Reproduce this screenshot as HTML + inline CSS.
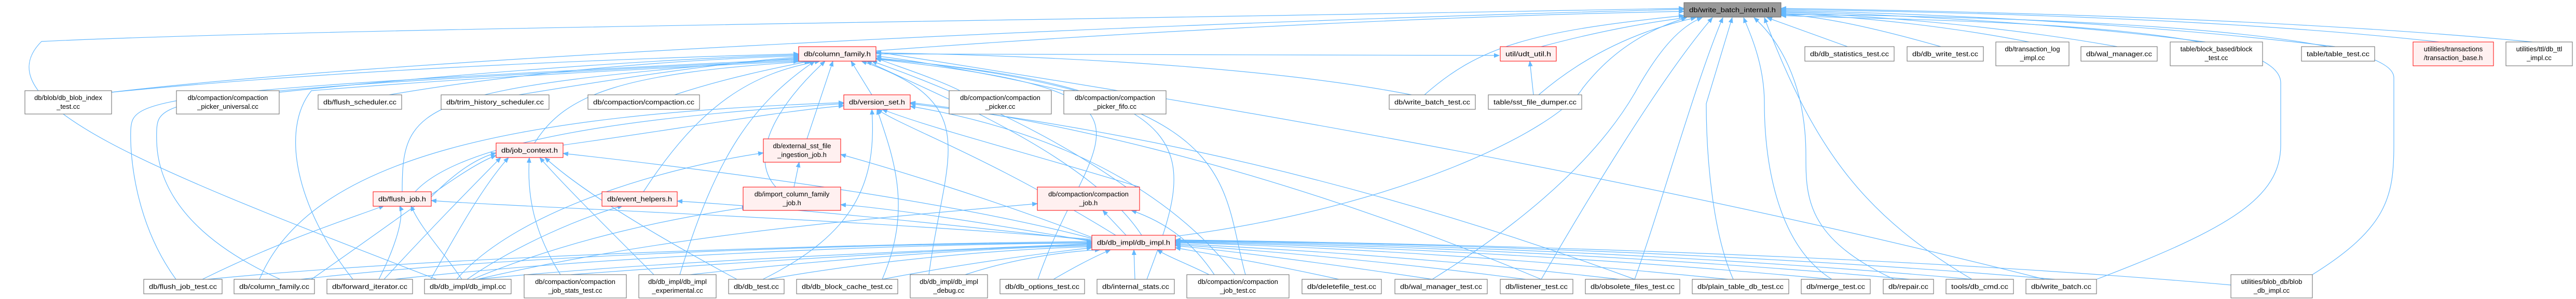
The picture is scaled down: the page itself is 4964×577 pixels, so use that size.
<!DOCTYPE html>
<html><head><meta charset="utf-8"><style>
html,body{margin:0;padding:0;background:#fff;}
svg{display:block;}
.e{fill:none;stroke:#63b8ff;stroke-width:1.2;}
.n rect{fill:#fff;stroke:#666;stroke-width:1;}
.r rect{fill:#fff0f0;stroke:#f00;stroke-width:1;}
.g rect{fill:#999;stroke:#666;stroke-width:1;}
text{font-family:"Liberation Sans",sans-serif;font-size:13px;fill:#000;text-anchor:middle;}
</style></head><body>
<svg width="4964" height="577" viewBox="0 0 4964 577" xmlns="http://www.w3.org/2000/svg">
<defs><marker id="a" markerWidth="11" markerHeight="9" refX="10" refY="4.5" orient="auto" markerUnits="userSpaceOnUse"><path d="M0,0 L11,4.5 L0,9 z" fill="#63b8ff"/></marker></defs>
<g class="e" marker-end="url(#a)">
<path d="M3560,90 L3405,34"/>
<path d="M3740,90 C3600,50 3500,30 3432,28"/>
<path d="M3910,81 C3700,40 3500,28 3432,26"/>
<path d="M4080,90 C3800,40 3500,25 3432,24"/>
<path d="M4250,81 C3900,35 3500,24 3432,22"/>
<path d="M4500,90 C4000,30 3500,22 3432,20"/>
<path d="M4700,81 C4200,25 3500,20 3432,18"/>
<path d="M4880,81 C4300,25 3500,18 3432,16"/>
<path d="M2970,90 C3100,55 3200,40 3250,34"/>
<path d="M2745,183 C2850,90 2950,60 3245,30"/>
<path d="M2965,183 C3050,110 3150,60 3268,34"/>
<path d="M1688,98 C2200,60 2800,30 3245,22"/>
<path d="M215,178 C700,120 2000,50 3245,18"/>
<path d="M841,539 C300,330 -40,200 80,80 C600,55 2000,40 3245,16"/>
<path d="M2760,539 C2950,420 3080,300 3150,180 C3200,90 3240,50 3280,34"/>
<path d="M2970,539 C3050,400 3200,150 3300,34"/>
<path d="M3150,539 C3200,400 3270,150 3320,34"/>
<path d="M3340,539 C3300,450 3288,300 3288,200 L3338,34"/>
<path d="M3530,539 C3420,470 3400,300 3400,200 C3400,120 3370,60 3360,34"/>
<path d="M3650,539 C3480,460 3480,380 3480,300 C3480,150 3420,70 3380,34"/>
<path d="M3800,539 C3600,420 3500,300 3400,34"/>
<path d="M4040,539 C4300,440 4395,380 4395,280 L4395,160 C4395,40 3700,40 3432,30"/>
<path d="M4456,530 C4600,440 4613,380 4613,280 L4613,150 C4613,50 3800,30 3432,28"/>
<path d="M2265,456 C2700,400 3000,250 3050,170 C3120,80 3200,50 3250,34"/>
<path d="M215,178 C700,130 1300,110 1539,104"/>
<path d="M538,178 C900,140 1300,112 1539,106"/>
<path d="M750,183 C1000,140 1300,115 1539,108"/>
<path d="M1000,183 C1200,150 1400,120 1539,110"/>
<path d="M1300,183 C1400,150 1500,130 1560,118"/>
<path d="M1680,183 L1640,118"/>
<path d="M1030,276 C1090,180 1200,140 1565,118"/>
<path d="M1555,268 L1605,118"/>
<path d="M1495,361 C1440,300 1500,200 1590,118"/>
<path d="M1240,370 C1350,200 1450,140 1580,118"/>
<path d="M1850,175 C1800,150 1720,125 1688,112"/>
<path d="M2050,175 C1900,140 1750,115 1688,108"/>
<path d="M2720,183 C2400,120 1900,105 1688,102"/>
<path d="M775,370 C775,200 800,170 1539,112"/>
<path d="M2170,361 C2000,240 1800,160 1680,118"/>
<path d="M2200,454 C2100,300 1800,180 1670,118"/>
<path d="M339,539 C260,430 250,300 252,250 C255,190 280,175 1539,114"/>
<path d="M540,539 C300,430 300,300 302,250 C305,190 330,175 1539,116"/>
<path d="M680,539 C570,400 540,250 600,175 C900,150 1300,130 1539,118"/>
<path d="M1310,530 C1380,300 1450,200 1570,118"/>
<path d="M1790,530 C1820,300 1900,200 1660,118"/>
<path d="M2000,539 C2100,250 2300,180 1688,114"/>
<path d="M2400,530 C2350,350 2400,180 1688,112"/>
<path d="M2210,539 C2300,300 2350,170 1688,113"/>
<path d="M3940,539 C3000,300 2000,150 1688,100"/>
<path d="M1688,104 C2200,108 2700,108 2889,107"/>
<path d="M1085,280 C1300,250 1500,215 1626,204"/>
<path d="M800,370 C900,260 1300,220 1626,200"/>
<path d="M500,539 C600,300 1000,220 1626,198"/>
<path d="M2196,361 C2000,300 1800,250 1700,211"/>
<path d="M2150,454 C1900,300 1750,250 1690,211"/>
<path d="M1700,539 C1760,400 1720,300 1690,211"/>
<path d="M1470,539 C1650,450 1690,350 1680,211"/>
<path d="M2380,530 C2200,300 1900,230 1754,205"/>
<path d="M3150,539 C2500,300 2000,230 1754,200"/>
<path d="M2970,539 C2400,300 1950,220 1754,198"/>
<path d="M831,380 C880,330 920,305 956,295"/>
<path d="M2104,460 C1800,380 1300,320 1085,296"/>
<path d="M830,539 C880,450 930,360 980,304"/>
<path d="M1080,530 C1030,450 1015,380 1020,304"/>
<path d="M1260,530 C1150,420 1080,350 1040,304"/>
<path d="M1420,539 C1200,420 1100,350 1050,304"/>
<path d="M740,539 C850,420 920,350 965,304"/>
<path d="M600,539 C800,400 900,320 956,300"/>
<path d="M390,539 C550,460 680,420 740,397"/>
<path d="M890,539 C850,480 810,440 792,397"/>
<path d="M2104,462 C1600,420 1000,400 831,387"/>
<path d="M730,539 C760,480 780,420 770,397"/>
<path d="M1530,361 L1540,313"/>
<path d="M2104,458 C1900,380 1700,320 1620,298"/>
<path d="M880,539 C1000,400 1300,320 1471,295"/>
<path d="M900,539 C1000,470 1120,420 1200,397"/>
<path d="M2104,464 C1800,430 1500,400 1305,388"/>
<path d="M910,539 C1100,460 1300,420 1440,400"/>
<path d="M2104,466 C1900,430 1700,400 1620,395"/>
<path d="M920,539 C1300,450 1700,420 1999,393"/>
<path d="M2170,454 L2125,406"/>
<path d="M2340,530 C2300,470 2250,430 2180,406"/>
<path d="M920,539 C1300,500 1900,480 2104,470"/>
<path d="M1100,530 C1500,500 1900,478 2104,472"/>
<path d="M1330,530 C1600,500 1900,478 2104,474"/>
<path d="M1480,539 C1700,500 1950,480 2104,476"/>
<path d="M1700,539 C1850,510 2000,490 2104,478"/>
<path d="M400,539 C900,490 1700,470 2104,466"/>
<path d="M580,539 C1000,490 1700,470 2104,468"/>
<path d="M760,539 C1200,490 1800,470 2104,469"/>
<path d="M1860,530 C1950,500 2050,485 2120,482"/>
<path d="M2030,539 C2080,510 2110,495 2140,482"/>
<path d="M2187,539 L2185,482"/>
<path d="M2330,530 C2290,510 2250,495 2230,482"/>
<path d="M2580,539 C2450,510 2330,490 2265,478"/>
<path d="M2760,539 C2500,500 2330,480 2265,474"/>
<path d="M2940,539 C2600,495 2350,478 2265,472"/>
<path d="M3120,539 C2700,490 2350,475 2265,470"/>
<path d="M3330,539 C2800,485 2400,472 2265,468"/>
<path d="M3530,539 C2900,480 2400,470 2265,467"/>
<path d="M3680,539 C3000,478 2400,468 2265,466"/>
<path d="M3800,539 C3100,476 2400,466 2265,465"/>
<path d="M3960,539 C3200,474 2400,465 2265,464"/>
<path d="M4299,550 C3500,480 2500,466 2265,463"/>
<path d="M2955,183 L2948,118"/>
</g>
<g class="g"><rect x="3245" y="5" width="187" height="28"/><text x="3338.5" y="23.5" textLength="167" lengthAdjust="spacingAndGlyphs">db/write_batch_internal.h</text></g>
<g class="r"><rect x="2891" y="90" width="108" height="28"/><text x="2945" y="108.5" textLength="88" lengthAdjust="spacingAndGlyphs">util/udt_util.h</text></g>
<g class="n"><rect x="3478" y="90" width="172" height="28"/><text x="3564" y="108.5" textLength="152" lengthAdjust="spacingAndGlyphs">db/db_statistics_test.cc</text></g>
<g class="n"><rect x="3675" y="90" width="147" height="28"/><text x="3748.5" y="108.5" textLength="127" lengthAdjust="spacingAndGlyphs">db/db_write_test.cc</text></g>
<g class="n"><rect x="3846" y="81" width="141" height="46"/><text x="3916.5" y="99">db/transaction_log</text><text x="3916.5" y="116">_impl.cc</text></g>
<g class="n"><rect x="4010" y="90" width="147" height="28"/><text x="4083.5" y="108.5" textLength="127" lengthAdjust="spacingAndGlyphs">db/wal_manager.cc</text></g>
<g class="n"><rect x="4182" y="81" width="178" height="46"/><text x="4271" y="99">table/block_based/block</text><text x="4271" y="116">_test.cc</text></g>
<g class="n"><rect x="4435" y="90" width="141" height="28"/><text x="4505.5" y="108.5" textLength="121" lengthAdjust="spacingAndGlyphs">table/table_test.cc</text></g>
<g class="r"><rect x="4650" y="81" width="155" height="46"/><text x="4727.5" y="99">utilities/transactions</text><text x="4727.5" y="116">/transaction_base.h</text></g>
<g class="n"><rect x="4829" y="81" width="128" height="46"/><text x="4893" y="99">utilities/ttl/db_ttl</text><text x="4893" y="116">_impl.cc</text></g>
<g class="r"><rect x="1539" y="90" width="149" height="28"/><text x="1613.5" y="108.5" textLength="129" lengthAdjust="spacingAndGlyphs">db/column_family.h</text></g>
<g class="n"><rect x="48" y="175" width="167" height="45"/><text x="131.5" y="193">db/blob/db_blob_index</text><text x="131.5" y="210">_test.cc</text></g>
<g class="n"><rect x="340" y="175" width="198" height="45"/><text x="439" y="193">db/compaction/compaction</text><text x="439" y="210">_picker_universal.cc</text></g>
<g class="n"><rect x="613" y="183" width="161" height="28"/><text x="693.5" y="201.5" textLength="141" lengthAdjust="spacingAndGlyphs">db/flush_scheduler.cc</text></g>
<g class="n"><rect x="850" y="183" width="208" height="28"/><text x="954" y="201.5" textLength="188" lengthAdjust="spacingAndGlyphs">db/trim_history_scheduler.cc</text></g>
<g class="n"><rect x="1133" y="183" width="215" height="28"/><text x="1240.5" y="201.5" textLength="195" lengthAdjust="spacingAndGlyphs">db/compaction/compaction.cc</text></g>
<g class="r"><rect x="1626" y="183" width="128" height="28"/><text x="1690" y="201.5" textLength="108" lengthAdjust="spacingAndGlyphs">db/version_set.h</text></g>
<g class="n"><rect x="1829" y="175" width="197" height="45"/><text x="1927.5" y="193">db/compaction/compaction</text><text x="1927.5" y="210">_picker.cc</text></g>
<g class="n"><rect x="2050" y="175" width="197" height="45"/><text x="2148.5" y="193">db/compaction/compaction</text><text x="2148.5" y="210">_picker_fifo.cc</text></g>
<g class="n"><rect x="2677" y="183" width="166" height="28"/><text x="2760" y="201.5" textLength="146" lengthAdjust="spacingAndGlyphs">db/write_batch_test.cc</text></g>
<g class="n"><rect x="2868" y="183" width="180" height="28"/><text x="2958" y="201.5" textLength="160" lengthAdjust="spacingAndGlyphs">table/sst_file_dumper.cc</text></g>
<g class="r"><rect x="956" y="276" width="129" height="28"/><text x="1020.5" y="294.5" textLength="109" lengthAdjust="spacingAndGlyphs">db/job_context.h</text></g>
<g class="r"><rect x="1471" y="268" width="149" height="45"/><text x="1545.5" y="286">db/external_sst_file</text><text x="1545.5" y="303">_ingestion_job.h</text></g>
<g class="r"><rect x="719" y="370" width="112" height="28"/><text x="775" y="388.5" textLength="92" lengthAdjust="spacingAndGlyphs">db/flush_job.h</text></g>
<g class="r"><rect x="1160" y="370" width="145" height="28"/><text x="1232.5" y="388.5" textLength="125" lengthAdjust="spacingAndGlyphs">db/event_helpers.h</text></g>
<g class="r"><rect x="1432" y="361" width="188" height="45"/><text x="1526" y="379">db/import_column_family</text><text x="1526" y="396">_job.h</text></g>
<g class="r"><rect x="1999" y="361" width="197" height="45"/><text x="2097.5" y="379">db/compaction/compaction</text><text x="2097.5" y="396">_job.h</text></g>
<g class="r"><rect x="2104" y="454" width="161" height="28"/><text x="2184.5" y="472.5" textLength="141" lengthAdjust="spacingAndGlyphs">db/db_impl/db_impl.h</text></g>
<g class="n"><rect x="277" y="539" width="151" height="28"/><text x="352.5" y="557.5" textLength="131" lengthAdjust="spacingAndGlyphs">db/flush_job_test.cc</text></g>
<g class="n"><rect x="451" y="539" width="155" height="28"/><text x="528.5" y="557.5" textLength="135" lengthAdjust="spacingAndGlyphs">db/column_family.cc</text></g>
<g class="n"><rect x="630" y="539" width="165" height="28"/><text x="712.5" y="557.5" textLength="145" lengthAdjust="spacingAndGlyphs">db/forward_iterator.cc</text></g>
<g class="n"><rect x="818" y="539" width="167" height="28"/><text x="901.5" y="557.5" textLength="147" lengthAdjust="spacingAndGlyphs">db/db_impl/db_impl.cc</text></g>
<g class="n"><rect x="1010" y="530" width="197" height="45"/><text x="1108.5" y="548">db/compaction/compaction</text><text x="1108.5" y="565">_job_stats_test.cc</text></g>
<g class="n"><rect x="1231" y="530" width="149" height="45"/><text x="1305.5" y="548">db/db_impl/db_impl</text><text x="1305.5" y="565">_experimental.cc</text></g>
<g class="n"><rect x="1404" y="539" width="107" height="28"/><text x="1457.5" y="557.5" textLength="87" lengthAdjust="spacingAndGlyphs">db/db_test.cc</text></g>
<g class="n"><rect x="1535" y="539" width="195" height="28"/><text x="1632.5" y="557.5" textLength="175" lengthAdjust="spacingAndGlyphs">db/db_block_cache_test.cc</text></g>
<g class="n"><rect x="1754" y="530" width="149" height="45"/><text x="1828.5" y="548">db/db_impl/db_impl</text><text x="1828.5" y="565">_debug.cc</text></g>
<g class="n"><rect x="1927" y="539" width="163" height="28"/><text x="2008.5" y="557.5" textLength="143" lengthAdjust="spacingAndGlyphs">db/db_options_test.cc</text></g>
<g class="n"><rect x="2114" y="539" width="149" height="28"/><text x="2188.5" y="557.5" textLength="129" lengthAdjust="spacingAndGlyphs">db/internal_stats.cc</text></g>
<g class="n"><rect x="2287" y="530" width="197" height="45"/><text x="2385.5" y="548">db/compaction/compaction</text><text x="2385.5" y="565">_job_test.cc</text></g>
<g class="n"><rect x="2509" y="539" width="153" height="28"/><text x="2585.5" y="557.5" textLength="133" lengthAdjust="spacingAndGlyphs">db/deletefile_test.cc</text></g>
<g class="n"><rect x="2688" y="539" width="178" height="28"/><text x="2777" y="557.5" textLength="158" lengthAdjust="spacingAndGlyphs">db/wal_manager_test.cc</text></g>
<g class="n"><rect x="2891" y="539" width="140" height="28"/><text x="2961" y="557.5" textLength="120" lengthAdjust="spacingAndGlyphs">db/listener_test.cc</text></g>
<g class="n"><rect x="3055" y="539" width="182" height="28"/><text x="3146" y="557.5" textLength="162" lengthAdjust="spacingAndGlyphs">db/obsolete_files_test.cc</text></g>
<g class="n"><rect x="3261" y="539" width="186" height="28"/><text x="3354" y="557.5" textLength="166" lengthAdjust="spacingAndGlyphs">db/plain_table_db_test.cc</text></g>
<g class="n"><rect x="3471" y="539" width="133" height="28"/><text x="3537.5" y="557.5" textLength="113" lengthAdjust="spacingAndGlyphs">db/merge_test.cc</text></g>
<g class="n"><rect x="3629" y="539" width="97" height="28"/><text x="3677.5" y="557.5" textLength="77" lengthAdjust="spacingAndGlyphs">db/repair.cc</text></g>
<g class="n"><rect x="3750" y="539" width="130" height="28"/><text x="3815" y="557.5" textLength="110" lengthAdjust="spacingAndGlyphs">tools/db_cmd.cc</text></g>
<g class="n"><rect x="3904" y="539" width="136" height="28"/><text x="3972" y="557.5" textLength="116" lengthAdjust="spacingAndGlyphs">db/write_batch.cc</text></g>
<g class="n"><rect x="4299" y="530" width="157" height="45"/><text x="4377.5" y="548">utilities/blob_db/blob</text><text x="4377.5" y="565">_db_impl.cc</text></g>
</svg>
</body></html>
